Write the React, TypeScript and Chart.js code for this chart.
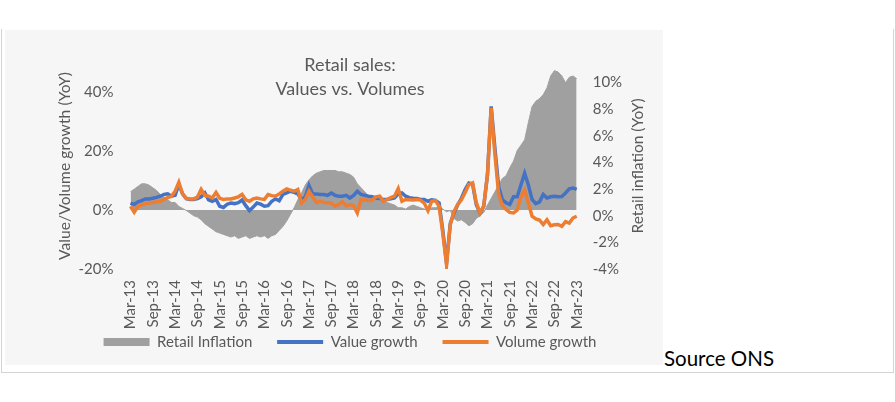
import React, { useEffect, useRef } from 'react';
import { Chart, registerables } from 'chart.js';

Chart.register(...registerables);

// ---------- data ----------
const MONTH_NAMES = ['Jan', 'Feb', 'Mar', 'Apr', 'May', 'Jun', 'Jul', 'Aug', 'Sep', 'Oct', 'Nov', 'Dec'];
const FIRST_YEAR = 13; // Mar-13
const FIRST_MONTH = 2; // March
const MONTH_COUNT = 121; // Mar-13 .. Mar-23
const categories: string[] = [];
for (let i = 0; i < MONTH_COUNT; i++) {
  const m = FIRST_MONTH + i;
  categories.push(`${MONTH_NAMES[m % 12]}-${FIRST_YEAR + Math.floor(m / 12)}`);
}
const TICK_EVERY = 6;

// Retail inflation (right axis, % YoY)
const retailInflation = [
  1.8, 2.0, 2.2, 2.4, 2.4, 2.3, 2.1, 1.9, 1.6, 1.4, 1.2, 1.0,
  1.0, 0.7, 0.55, 0.4, 0.2, 0.0, -0.1, -0.3, -0.6, -0.8, -1.0, -1.2,
  -1.3, -1.4, -1.5, -1.6, -1.5, -1.7, -1.6, -1.5, -1.7, -1.6, -1.5, -1.6,
  -1.5, -1.7, -1.5, -1.4, -1.1, -0.8, -0.4, 0.1, 0.6, 1.2, 1.7, 2.3,
  2.7, 3.0, 3.2, 3.3, 3.4, 3.4, 3.4, 3.4, 3.3, 3.3, 3.2, 3.1,
  2.9, 2.4, 2.1, 1.8, 1.5, 1.4, 1.2, 1.1, 1.1, 1.0, 0.9, 0.8,
  0.6, 0.6, 0.5, 0.7, 0.8, 0.7, 0.6, 0.5, 0.5, 0.6, 0.6, 0.7,
  0.5, 0.3, 0.4, -0.2, -0.4, -0.3, -0.5, -0.75, -0.6, -0.2, 0.0, 0.25,
  0.8, 1.3, 1.8, 2.3, 2.8, 3.0, 3.6, 4.1, 4.9, 5.3, 5.7, 7.0,
  8.2, 8.6, 8.8, 9.1, 9.6, 10.5, 10.9, 10.8, 10.5, 10.0, 10.4, 10.5,
  10.3,
];

// Value growth (left axis, % YoY)
const valueGrowth = [
  2.4, 1.9, 2.8, 3.2, 3.8, 3.8, 4.0, 4.3, 4.7, 5.3, 5.5, 4.7,
  5.0, 8.7, 5.5, 3.9, 3.6, 3.6, 3.9, 4.5, 5.8, 3.5, 3.0, 3.6,
  1.3, 0.9, 2.0, 2.4, 2.2, 2.5, 3.4, 1.5, -0.2, 1.0, 2.4, 2.0,
  1.3, 1.5, 3.0, 3.8, 3.2, 5.3, 5.8, 6.4, 6.0, 5.5, 3.5, 4.5,
  8.4, 5.5, 5.5, 5.3, 5.3, 5.0, 5.8, 5.0, 4.7, 4.7, 5.0, 4.1,
  5.0, 6.4, 5.3, 5.0, 4.7, 4.5, 4.1, 3.8, 3.6, 3.6, 3.8, 4.1,
  5.5, 5.8, 4.7, 4.2, 4.0, 3.9, 3.6, 3.6, 3.0, 3.5, 3.3, 2.4,
  -7.0, -18.0, -4.5, -1.0, 1.8, 4.0, 7.0, 9.2, 8.8, 1.8, -1.0, 1.3,
  12.0, 35.2, 21.0, 8.0, 3.5, 2.5, 1.9, 4.5, 4.5, 8.5, 12.5, 8.5,
  3.6, 2.2, 2.8, 5.3, 4.1, 4.5, 4.7, 4.5, 4.6, 5.8, 7.2, 7.5,
  7.0,
];

// Volume growth (left axis, % YoY)
const volumeGrowth = [
  1.3, -0.7, 1.3, 1.8, 2.2, 2.4, 2.6, 2.8, 3.0, 3.6, 4.2, 4.7,
  6.4, 9.4, 5.5, 4.0, 3.8, 3.8, 4.4, 7.0, 5.0, 4.7, 4.1, 6.0,
  4.0, 3.6, 3.8, 3.8, 4.1, 4.5, 5.3, 3.5, 3.0, 3.8, 4.1, 3.8,
  3.6, 5.3, 4.9, 4.7, 5.5, 6.4, 7.2, 6.8, 6.4, 7.0, 2.4, 3.6,
  6.4, 4.5, 2.6, 3.0, 2.6, 2.5, 2.4, 1.3, 1.9, 2.8, 1.5, 1.9,
  1.5, -1.0, 3.6, 3.5, 3.2, 3.5, 4.5, 4.7, 3.0, 3.6, 4.2, 4.7,
  7.3, 3.0, 3.6, 3.5, 3.4, 3.6, 3.4, 2.4, -0.2, 3.0, 3.2, 1.3,
  -8.0, -18.5, -5.0, -0.5, 1.9, 3.5, 6.0, 8.7, 9.2, 2.5, -1.0, 1.3,
  12.0, 34.7, 19.0, 5.5, 1.5, 0.2, -0.8, -1.0, 0.0, 4.5, 6.8, 2.4,
  -2.1, -3.0, -3.4, -4.9, -3.3, -5.3, -5.0, -4.9, -5.5, -3.9, -4.4, -2.7,
  -2.1,
];

const LEFT_TICKS = [-20, 0, 20, 40];
const RIGHT_TICKS = [-4, -2, 0, 2, 4, 6, 8, 10];
const LEFT_MIN = -20;
const LEFT_MAX = 52.3;
const RIGHT_MIN = -4;
const RIGHT_MAX = 12;

const TITLE_LINES = ['Retail sales:', 'Values vs. Volumes'];
const LEFT_AXIS_TITLE = 'Value/Volume growth (YoY)';
const RIGHT_AXIS_TITLE = 'Retail inflation (YoY)';

// ---------- styles ----------
const FONT = 'Lato';
const TEXT = '#595959';
const GRAY = '#a0a0a0';
const BLUE = '#4472c4';
const ORANGE = '#ed7d31';

const CANVAS_W = 694;
const CANVAS_H = 335;
const LEGEND_GAP = '\u2002\u2002 ';

// the area is filled down to the primary 0% line, expressed on the secondary axis
const AREA_BASE =
  RIGHT_MIN + ((RIGHT_MAX - RIGHT_MIN) * (0 - LEFT_MIN)) / (LEFT_MAX - LEFT_MIN);

const axisTitlesPlugin = {
  id: 'axisTitles',
  afterDraw(chart: any) {
    const { ctx, chartArea } = chart;
    const cy = (chartArea.top + chartArea.bottom) / 2 + 3.5;
    ctx.save();
    ctx.fillStyle = TEXT;
    ctx.textAlign = 'center';
    ctx.textBaseline = 'middle';

    // left title (bottom-to-top)
    ctx.font = `15.5px ${FONT}`;
    const w = ctx.measureText(LEFT_AXIS_TITLE).width;
    const spacing = Math.max(0, (188 - w) / (LEFT_AXIS_TITLE.length - 1));
    ctx.save();
    (ctx as any).letterSpacing = `${spacing}px`;
    ctx.translate(chart.scales.y.left + 62, cy);
    ctx.rotate(-Math.PI / 2);
    ctx.fillText(LEFT_AXIS_TITLE, spacing / 2, 0);
    ctx.restore();

    // right title (bottom-to-top)
    ctx.save();
    ctx.font = `15.5px ${FONT}`;
    ctx.translate(chart.scales.y1.right - 59, cy);
    ctx.rotate(-Math.PI / 2);
    ctx.fillText(RIGHT_AXIS_TITLE, 0, 0);
    ctx.restore();
    ctx.restore();
  },
};

function RetailChart() {
  const ref = useRef<HTMLCanvasElement | null>(null);

  useEffect(() => {
    if (!ref.current) return;
    Chart.defaults.font.family = FONT;
    Chart.defaults.color = TEXT;

    const chart = new Chart(ref.current, {
      type: 'line',
      data: {
        labels: categories,
        datasets: [
          {
            label: 'Retail Inflation',
            data: retailInflation,
            yAxisID: 'y1',
            borderColor: GRAY,
            borderWidth: 1,
            backgroundColor: GRAY,
            fill: { value: AREA_BASE },
            pointRadius: 0,
            tension: 0,
            order: 3,
          },
          {
            label: 'Value growth',
            data: valueGrowth,
            yAxisID: 'y',
            borderColor: BLUE,
            backgroundColor: BLUE,
            borderWidth: 3.5,
            pointRadius: 0,
            fill: false,
            tension: 0,
            order: 2,
          },
          {
            label: 'Volume growth',
            data: volumeGrowth,
            yAxisID: 'y',
            borderColor: ORANGE,
            backgroundColor: ORANGE,
            borderWidth: 3.5,
            pointRadius: 0,
            fill: false,
            tension: 0,
            order: 1,
          },
        ],
      },
      options: {
        responsive: false,
        animation: false,
        devicePixelRatio: 1,
        layout: { padding: { left: 0, right: 0, top: 0, bottom: 5.5 } },
        plugins: {
          tooltip: { enabled: false },
          title: {
            display: true,
            text: TITLE_LINES,
            color: TEXT,
            font: { family: FONT, size: 18, weight: 'normal', lineHeight: 24 / 18 },
            padding: { top: 23, bottom: -45 },
          },
          legend: {
            position: 'bottom',
            labels: {
              usePointStyle: true,
              pointStyleWidth: 46,
              boxHeight: 8,
              padding: 6,
              color: TEXT,
              font: { family: FONT, size: 15 },
              generateLabels: (chart: any) => {
                const n = chart.data.datasets.length;
                return chart.data.datasets.map((ds: any, i: number) => ({
                  text: i < n - 1 ? ds.label + LEGEND_GAP : ds.label,
                  fillStyle: ds.backgroundColor,
                  strokeStyle: ds.borderColor,
                  lineWidth: i === 0 ? 0 : 4,
                  pointStyle: i === 0 ? 'rect' : 'line',
                  hidden: false,
                  fontColor: TEXT,
                  datasetIndex: i,
                }));
              },
            },
          },
        },
        scales: {
          x: {
            type: 'category',
            offset: false,
            grid: { display: false, drawTicks: false },
            border: { display: false },
            ticks: {
              autoSkip: false,
              maxRotation: 90,
              minRotation: 90,
              padding: 11,
              color: TEXT,
              font: { family: FONT, size: 15 },
              callback: (_v: any, i: number) => (i % TICK_EVERY === 0 ? categories[i] : null),
            },
            afterFit: (s: any) => {
              s.height = 59.5;
            },
          },
          y: {
            position: 'left',
            min: LEFT_MIN,
            max: LEFT_MAX,
            grid: { display: false, drawTicks: false },
            border: { display: false },
            ticks: {
              padding: 17,
              color: TEXT,
              font: { family: FONT, size: 15 },
              callback: (v: any) => `${v}%`,
            },
            afterBuildTicks: (s: any) => {
              s.ticks = LEFT_TICKS.map((v) => ({ value: v }));
            },
            afterFit: (s: any) => {
              s.width = 127.5;
            },
          },
          y1: {
            position: 'right',
            min: RIGHT_MIN,
            max: RIGHT_MAX,
            grid: { display: false, drawTicks: false },
            border: { display: false },
            ticks: {
              padding: 16,
              color: TEXT,
              font: { family: FONT, size: 15 },
              callback: (v: any) => `${v}%`,
            },
            afterBuildTicks: (s: any) => {
              s.ticks = RIGHT_TICKS.map((v) => ({ value: v }));
            },
            afterFit: (s: any) => {
              s.width = 120.3;
            },
          },
        },
      },
      plugins: [axisTitlesPlugin],
    } as any);

    return () => chart.destroy();
  }, []);

  return (
    <canvas
      ref={ref}
      width={CANVAS_W}
      height={CANVAS_H}
      style={{ position: 'absolute', left: 3, top: 30, width: CANVAS_W, height: CANVAS_H }}
    />
  );
}

export default function App() {
  return (
    <div style={{ position: 'absolute', left: 0, top: 0, width: 895, height: 402, background: '#ffffff', overflow: 'hidden' }}>
      <div
        style={{
          position: 'absolute',
          left: 1,
          top: 29,
          width: 891,
          height: 343,
          borderLeft: '1px solid #d4d4d4',
          borderRight: '1px solid #d4d4d4',
          borderBottom: '1px solid #d4d4d4',
        }}
      />
      <div style={{ position: 'absolute', left: 5, top: 30, width: 658, height: 335, background: '#f6f6f6' }} />
      <div
        style={{
          position: 'absolute',
          left: 664,
          top: 346,
          fontFamily: FONT,
          fontSize: 20.5,
          lineHeight: '24px',
          color: '#000',
          whiteSpace: 'nowrap',
        }}
      >
        Source ONS
      </div>
      <RetailChart />
    </div>
  );
}
